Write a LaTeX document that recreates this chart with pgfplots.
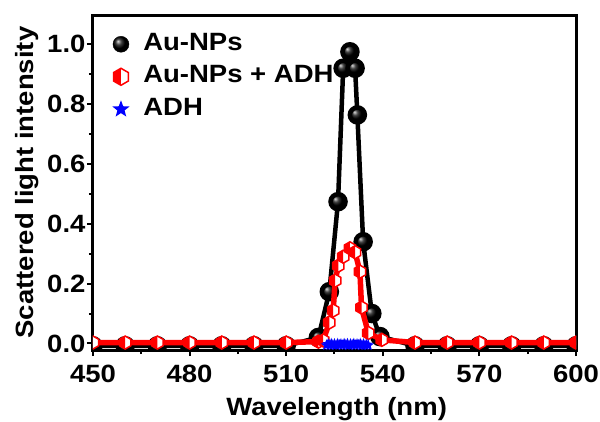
\documentclass[border=0pt]{standalone}
\usepackage{fontspec}
\setmainfont{Liberation Sans}[FakeStretch=1.1]
\usepackage{pgfplots}
\pgfplotsset{compat=1.18}

\pgfdeclareplotmark{halfhex}{%
  \pgfpathmoveto{\pgfpointpolar{90}{\pgfplotmarksize}}%
  \pgfpathlineto{\pgfpointpolar{150}{\pgfplotmarksize}}%
  \pgfpathlineto{\pgfpointpolar{210}{\pgfplotmarksize}}%
  \pgfpathlineto{\pgfpointpolar{270}{\pgfplotmarksize}}%
  \pgfpathlineto{\pgfpointpolar{330}{\pgfplotmarksize}}%
  \pgfpathlineto{\pgfpointpolar{30}{\pgfplotmarksize}}%
  \pgfpathclose
  \pgfsetfillcolor{white}\pgfusepath{fill}%
  \pgfpathmoveto{\pgfpointpolar{90}{\pgfplotmarksize}}%
  \pgfpathlineto{\pgfpointpolar{150}{\pgfplotmarksize}}%
  \pgfpathlineto{\pgfpointpolar{210}{\pgfplotmarksize}}%
  \pgfpathlineto{\pgfpointpolar{270}{\pgfplotmarksize}}%
  \pgfpathclose
  \pgfsetfillcolor{red}\pgfusepath{fill}%
  \pgfpathmoveto{\pgfpointpolar{90}{\pgfplotmarksize}}%
  \pgfpathlineto{\pgfpointpolar{150}{\pgfplotmarksize}}%
  \pgfpathlineto{\pgfpointpolar{210}{\pgfplotmarksize}}%
  \pgfpathlineto{\pgfpointpolar{270}{\pgfplotmarksize}}%
  \pgfpathlineto{\pgfpointpolar{330}{\pgfplotmarksize}}%
  \pgfpathlineto{\pgfpointpolar{30}{\pgfplotmarksize}}%
  \pgfpathclose
  \pgfsetstrokecolor{red}\pgfusepath{stroke}%
}
\pgfdeclareplotmark{fstar}{%
  \pgfpathmoveto{\pgfpointpolar{90}{\pgfplotmarksize}}%
  \pgfpathlineto{\pgfpointpolar{126}{0.42\pgfplotmarksize}}%
  \pgfpathlineto{\pgfpointpolar{162}{\pgfplotmarksize}}%
  \pgfpathlineto{\pgfpointpolar{198}{0.42\pgfplotmarksize}}%
  \pgfpathlineto{\pgfpointpolar{234}{\pgfplotmarksize}}%
  \pgfpathlineto{\pgfpointpolar{270}{0.42\pgfplotmarksize}}%
  \pgfpathlineto{\pgfpointpolar{306}{\pgfplotmarksize}}%
  \pgfpathlineto{\pgfpointpolar{342}{0.42\pgfplotmarksize}}%
  \pgfpathlineto{\pgfpointpolar{18}{\pgfplotmarksize}}%
  \pgfpathlineto{\pgfpointpolar{54}{0.42\pgfplotmarksize}}%
  \pgfpathclose
  \pgfusepathqfill
}

\pgfplotstableread{
x y
450 -0.008
460 -0.008
470 -0.008
480 -0.008
490 -0.008
500 -0.008
510 -0.008
520 0.02
523.4 0.173
526.1 0.474
527.7 0.92
529.8 0.975
531.4 0.92
532.1 0.764
533.9 0.34
536.6 0.10
539.1 0.023
550 -0.008
560 -0.008
570 -0.008
580 -0.008
590 -0.008
600 -0.008
}\aunp

\pgfplotstableread{
x y
450 0.003
460 0.003
470 0.003
480 0.003
490 0.003
500 0.003
510 0.003
520 0.006
521.5 0.01
523.4 0.07
524.6 0.11
525.2 0.21
526.2 0.26
527.7 0.29
529.8 0.318
531.4 0.305
532.9 0.24
533.4 0.12
535.5 0.035
539.7 0.012
550 0.003
560 0.003
570 0.003
580 0.003
590 0.003
600 0.003
}\aunpadh

\pgfplotstableread{
x y
522.5 -0.006
523.0 -0.002
523.5 -0.006
524.0 -0.001
524.5 -0.005
525.0 -0.002
525.5 -0.006
526.0 -0.001
526.5 -0.005
527.0 -0.002
527.5 -0.006
528.0 -0.001
528.5 -0.005
529.0 -0.001
529.5 -0.006
530.0 -0.002
530.5 -0.005
531.0 -0.001
531.5 -0.006
532.0 -0.002
532.5 -0.005
533.0 -0.001
533.5 -0.006
534.0 -0.002
534.5 -0.006
535.0 -0.004
535.5 -0.006
}\adh

\begin{document}
\begin{tikzpicture}
\begin{axis}[
  scale only axis, width=483pt, height=335pt,
  xmin=450, xmax=600, ymin=-0.022, ymax=1.098,
  xtick={450,480,...,600}, minor x tick num=1,
  ytick={0,0.2,0.4,0.6,0.8,1.0}, minor y tick num=1,
  xtick pos=bottom, ytick pos=left,
  tick align=outside,
  major tick length=6pt, minor tick length=4pt,
  every tick/.style={black, line width=2pt},
  axis line style={line width=3pt},
  /pgf/number format/assume math mode=true,
  tick label style={font=\fontsize{25}{30}\selectfont\bfseries},
  xticklabel style={yshift=-5pt},
  yticklabel style={xshift=2pt, /pgf/number format/fixed, /pgf/number format/fixed zerofill, /pgf/number format/precision=1},
  scaled y ticks=false,
  xlabel={Wavelength (nm)}, ylabel={Scattered light intensity},
  label style={font=\fontsize{25}{30}\selectfont\bfseries},
  xlabel style={at={(rel axis cs:0.5045,-0.194)}, anchor=base, inner sep=0pt},
  ylabel style={at={(rel axis cs:-0.1366,0.5)}, anchor=center, inner sep=0pt},
  clip marker paths=true,
  legend style={at={(rel axis cs:0.0398,0.952)}, anchor=north west, draw=none, fill=none,
    font=\fontsize{25}{30}\selectfont\bfseries, inner sep=0pt, row sep=6.5pt, column sep=12.8pt,
    nodes={inner sep=1pt, text height=18pt, text depth=6pt}},
  legend cell align=left,
]
\addplot[black, line width=4.5pt, mark=ball, mark size=7.5pt, mark options={ball color=black}, forget plot] table[x=x,y=y] {\aunp};
\addplot[red, line width=5.5pt, mark=halfhex, mark size=6.5pt, mark options={line width=1.5pt}, forget plot] table[x=x,y=y] {\aunpadh};
\addplot[blue, line width=1pt, mark=fstar, mark size=6pt, mark options={fill=blue}, forget plot] table[x=x,y=y] {\adh};

\addlegendimage{only marks, mark=ball, mark size=8pt, mark options={ball color=black}}
\addlegendentry{Au-NPs}
\addlegendimage{only marks, red, mark=halfhex, mark size=8.5pt, mark options={line width=1.5pt}}
\addlegendentry{Au-NPs + ADH}
\addlegendimage{only marks, blue, mark=fstar, mark size=9pt, mark options={fill=blue}}
\addlegendentry{ADH}

\coordinate (bbsw) at (rel axis cs:-0.1925,-0.2119);
\coordinate (bbne) at (rel axis cs:1.0497,1.0448);
\end{axis}
\pgfresetboundingbox
\useasboundingbox (bbsw) rectangle (bbne);
\end{tikzpicture}
\end{document}
